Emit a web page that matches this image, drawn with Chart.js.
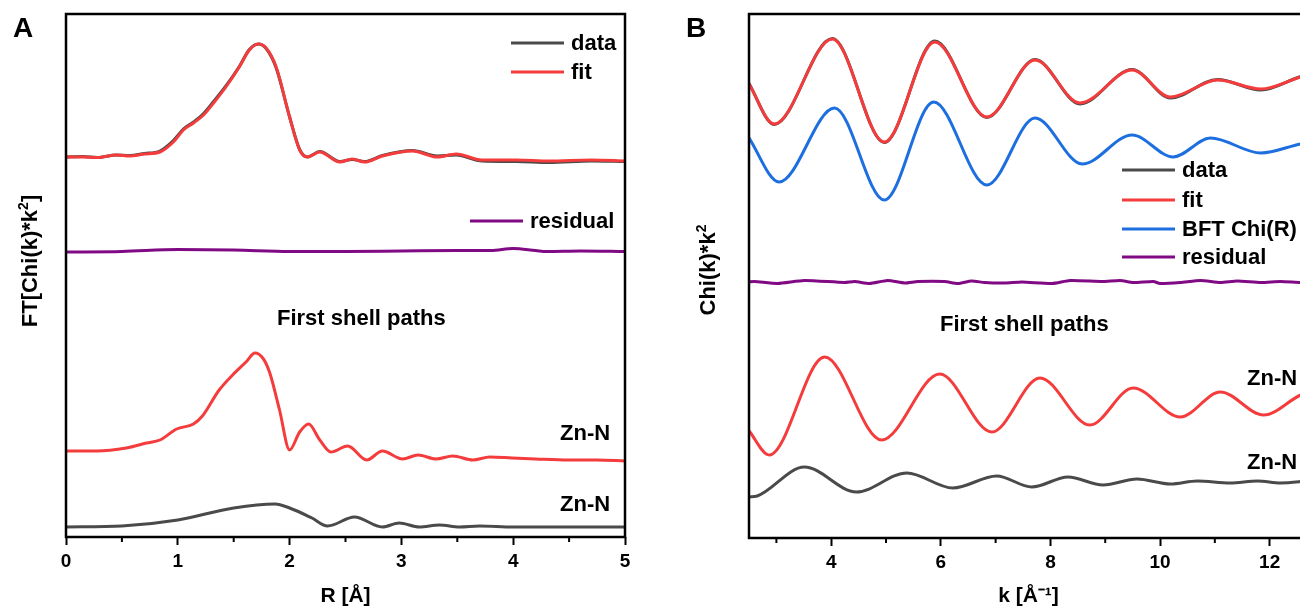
<!DOCTYPE html>
<html>
<head>
<meta charset="utf-8">
<script src="https://cdn.jsdelivr.net/npm/chart.js@4.4.0/dist/chart.umd.min.js"></script>
<style>
  html, body { margin: 0; padding: 0; background: #fff; overflow: hidden; }
  body { width: 1300px; height: 612px; position: relative;
         font-family: "Liberation Sans", Arial, sans-serif; font-weight: bold; color: #000; }
  canvas { position: absolute; top: 0; }
  .lbl { position: absolute; white-space: nowrap; line-height: 1; transform: translateY(-50%); font-size: 22px; }
  .key { position: absolute; height: 3px; width: 53px; transform: translateY(-50%); }
  .ytitle { position: absolute; white-space: nowrap; line-height: 1; font-size: 22px;
            transform: translate(-50%, -50%) rotate(-90deg); }
  .ytitle sup { font-size: 14px; vertical-align: 9px; }
  .panel { position: absolute; font-size: 28px; line-height: 1; transform: translateY(-50%); }
</style>
</head>
<body>
<canvas id="chart-a"></canvas>
<canvas id="chart-b"></canvas>

<div class="panel" style="left:13px;top:28px">A</div>
<div class="panel" style="left:686px;top:28px">B</div>

<div class="ytitle" style="left:28px;top:261px">FT[Chi(k)*k<sup>2</sup>]</div>
<div class="ytitle" style="left:706px;top:270px">Chi(k)*k<sup>2</sup></div>

<!-- A : légendes et étiquettes -->
<div class="key" style="left:511px;top:43px;background:#4a4a4a"></div>
<div class="lbl" style="left:571px;top:43px">data</div>
<div class="key" style="left:511px;top:72px;background:#f43c3c"></div>
<div class="lbl" style="left:571px;top:72px">fit</div>
<div class="key" style="left:470px;top:221px;background:#800a84"></div>
<div class="lbl" style="left:530px;top:221px">residual</div>
<div class="lbl" style="left:277px;top:318px">First shell paths</div>
<div class="lbl" style="left:560px;top:433px">Zn-N</div>
<div class="lbl" style="left:560px;top:504px">Zn-N</div>

<!-- B : légendes et étiquettes -->
<div class="key" style="left:1122px;top:170px;background:#4a4a4a"></div>
<div class="lbl" style="left:1182px;top:170px">data</div>
<div class="key" style="left:1122px;top:200px;background:#f43c3c"></div>
<div class="lbl" style="left:1182px;top:200px">fit</div>
<div class="key" style="left:1122px;top:229px;background:#1d6fe0"></div>
<div class="lbl" style="left:1182px;top:229px">BFT Chi(R)</div>
<div class="key" style="left:1122px;top:257px;background:#800a84"></div>
<div class="lbl" style="left:1182px;top:257px">residual</div>
<div class="lbl" style="left:940px;top:324px">First shell paths</div>
<div class="lbl" style="left:1247px;top:378px">Zn-N</div>
<div class="lbl" style="left:1247px;top:462px">Zn-N</div>

<script>
/* ── Panneau A : FT en R (unités arbitraires) ───────────── */
const A_TOP_R   = [0,0.15,0.28,0.45,0.57,0.7,0.84,0.96,1.05,1.14,1.23,1.32,1.43,1.55,1.64,1.72,1.79,1.88,2.0,2.09,2.16,2.27,2.45,2.56,2.67,2.83,3.1,3.32,3.49,3.72,4.03,4.32,4.7,5.0];
const A_FIT     = [7.60,7.60,7.59,7.64,7.62,7.66,7.70,7.90,8.14,8.28,8.44,8.68,9.00,9.40,9.74,9.86,9.78,9.40,8.40,7.74,7.60,7.70,7.50,7.56,7.50,7.62,7.72,7.60,7.66,7.54,7.54,7.52,7.54,7.52];
const A_DATA    = [7.60,7.61,7.59,7.64,7.63,7.67,7.72,7.93,8.16,8.30,8.47,8.71,9.02,9.41,9.75,9.86,9.77,9.38,8.40,7.75,7.60,7.71,7.51,7.55,7.51,7.63,7.73,7.62,7.64,7.52,7.51,7.49,7.52,7.51];

const A_RES_R   = [0,0.5,1.0,1.5,2.0,2.5,3.0,3.5,3.8,4.0,4.2,4.3,4.6,5.0];
const A_RES     = [5.70,5.71,5.75,5.74,5.71,5.71,5.72,5.73,5.73,5.77,5.73,5.71,5.72,5.71];

const A_ZNN1_R  = [0,0.27,0.54,0.72,0.84,0.99,1.14,1.22,1.37,1.49,1.61,1.69,1.76,1.82,1.91,2.0,2.09,2.17,2.27,2.37,2.52,2.69,2.83,3.01,3.15,3.31,3.46,3.64,3.79,3.99,4.2,4.5,4.75,5.0];
const A_ZNN1    = [1.72,1.72,1.78,1.88,1.94,2.16,2.26,2.42,2.94,3.24,3.50,3.68,3.58,3.30,2.54,1.74,2.10,2.26,1.94,1.70,1.82,1.54,1.72,1.56,1.64,1.56,1.62,1.54,1.60,1.58,1.56,1.54,1.54,1.52];

const A_ZNN2_R  = [0,0.5,1.0,1.5,1.87,2.0,2.2,2.34,2.58,2.83,2.98,3.16,3.34,3.52,3.7,4.0,5.0];
const A_ZNN2    = [0.20,0.22,0.34,0.58,0.66,0.58,0.38,0.22,0.40,0.20,0.28,0.20,0.24,0.20,0.22,0.20,0.20];

const A_TICKS   = [0,1,2,3,4,5];
const A_MINOR   = [0.5,1.5,2.5,3.5,4.5];

/* ── Panneau B : Chi(k)*k² (unités arbitraires) ─────────── */
const B_TOP_K   = [2.49,2.96,4.02,4.97,5.89,6.84,7.72,8.54,9.49,10.19,11.05,11.84,12.57,12.7];
const B_FIT     = [9.10,8.28,9.98,7.92,9.92,8.42,9.56,8.70,9.36,8.82,9.16,8.98,9.22,9.25];
const B_DATA    = [9.11,8.27,9.99,7.91,9.94,8.41,9.57,8.68,9.37,8.80,9.17,8.96,9.23,9.26];

const B_BFT_K   = [2.49,3.05,4.06,4.97,5.87,6.84,7.72,8.58,9.49,10.24,10.92,11.84,12.57,12.7];
const B_BFT     = [8.02,7.12,8.60,6.76,8.72,7.06,8.40,7.48,8.06,7.62,8.00,7.70,7.88,7.90];

const B_RES_K   = [2.49,2.60,3.02,3.51,4.24,4.43,4.70,5.03,5.34,5.58,6.07,6.31,6.56,6.80,7.17,7.48,8.03,8.36,8.96,9.27,9.51,9.88,10.00,10.37,10.74,11.10,11.41,11.84,12.20,12.57,12.7];
const B_RES     = [5.12,5.13,5.09,5.15,5.11,5.13,5.09,5.15,5.10,5.13,5.13,5.09,5.14,5.11,5.10,5.12,5.09,5.15,5.13,5.15,5.11,5.13,5.09,5.11,5.15,5.11,5.14,5.11,5.13,5.11,5.12];

const B_ZNN1_K  = [2.49,2.87,3.88,4.92,5.98,6.93,7.81,8.72,9.51,10.37,11.1,11.89,12.57,12.7];
const B_ZNN1    = [2.16,1.66,3.62,1.96,3.28,2.12,3.20,2.26,3.00,2.42,2.92,2.46,2.86,2.90];

const B_ZNN2_K  = [2.49,2.65,3.51,4.46,5.38,6.22,7.02,7.66,8.32,8.96,9.58,10.19,10.68,11.28,11.78,12.2,12.7];
const B_ZNN2    = [0.82,0.84,1.42,0.92,1.30,1.00,1.24,1.02,1.22,1.06,1.18,1.08,1.14,1.10,1.14,1.10,1.14];

const B_TICKS   = [4,6,8,10,12];
const B_MINOR   = [3,5,7,9,11];

/* ── Couleurs ───────────────────────────────────────────── */
const ROUGE  = '#f43c3c';
const GRIS   = '#4a4a4a';
const BLEU   = '#1d6fe0';
const VIOLET = '#800a84';
const POLICE = '"Liberation Sans", Arial, sans-serif';

function points(xs, ys) {
  return xs.map((x, i) => ({ x, y: ys[i] }));
}

function serie(xs, ys, couleur, lisse = true) {
  return {
    data: points(xs, ys),
    borderColor: couleur,
    borderWidth: 3,
    pointRadius: 0,
    fill: false,
    cubicInterpolationMode: lisse ? 'monotone' : 'default',
    tension: lisse ? 0.4 : 0.2,
  };
}

/* Cadre noir + petites graduations mineures */
const cadrePlugin = {
  id: 'cadre',
  afterDraw(chart, args, opts) {
    const { ctx, chartArea: a, scales: { x } } = chart;
    ctx.save();
    ctx.strokeStyle = '#000';
    ctx.lineWidth = 2.5;
    ctx.strokeRect(a.left, a.top, a.right - a.left, a.bottom - a.top);
    ctx.lineWidth = 2;
    (opts.minor || []).forEach(v => {
      const px = x.getPixelForValue(v);
      ctx.beginPath();
      ctx.moveTo(px, a.bottom);
      ctx.lineTo(px, a.bottom + 5);
      ctx.stroke();
    });
    ctx.restore();
  },
};

function creerGraphe(id, gauche, largeur, cfg) {
  const cv = document.getElementById(id);
  cv.width = largeur; cv.height = 612;
  cv.style.left = gauche + 'px';
  cv.style.width = largeur + 'px'; cv.style.height = '612px';

  return new Chart(cv.getContext('2d'), {
    type: 'line',
    data: { datasets: cfg.datasets },
    options: {
      responsive: false,
      animation: false,
      layout: { padding: { left: 0, top: 14, right: cfg.padDroite, bottom: 0 } },
      plugins: {
        legend: { display: false },
        tooltip: { enabled: false },
        cadre: { minor: cfg.minor },
      },
      scales: {
        x: {
          type: 'linear',
          min: cfg.xmin, max: cfg.xmax,
          afterFit: s => { s.height = 612 - cfg.bas; },
          afterBuildTicks: s => { s.ticks = cfg.ticks.map(v => ({ value: v })); },
          grid: { drawOnChartArea: false, drawTicks: true, tickLength: 8, tickWidth: 2, tickColor: '#000' },
          border: { display: false },
          ticks: { color: '#000', padding: 5, maxRotation: 0, font: { family: POLICE, size: 19, weight: 'bold' } },
          title: {
            display: true, text: cfg.titreX, color: '#000',
            padding: { top: 0, bottom: 3 },
            font: { family: POLICE, size: 21, weight: 'bold' },
          },
        },
        y: {
          min: 0, max: cfg.ymax,
          afterFit: s => { s.width = 66; },
          grid: { display: false },
          border: { display: false },
          ticks: { display: false },
        },
      },
    },
    plugins: [cadrePlugin],
  });
}

document.addEventListener('DOMContentLoaded', () => {
  creerGraphe('chart-a', 0, 650, {
    xmin: 0, xmax: 5, ymax: 10.46, bas: 537, padDroite: 25,
    ticks: A_TICKS, minor: A_MINOR, titreX: 'R [Å]',
    datasets: [
      serie(A_TOP_R, A_FIT, ROUGE),
      serie(A_TOP_R, A_DATA, GRIS),
      serie(A_RES_R, A_RES, VIOLET),
      serie(A_ZNN1_R, A_ZNN1, ROUGE),
      serie(A_ZNN2_R, A_ZNN2, GRIS),
    ],
  });

  creerGraphe('chart-b', 683, 640, {
    xmin: 2.5, xmax: 12.7, ymax: 10.48, bas: 538, padDroite: 15,
    ticks: B_TICKS, minor: B_MINOR, titreX: 'k [Å⁻¹]',
    datasets: [
      serie(B_TOP_K, B_FIT, ROUGE),
      serie(B_TOP_K, B_DATA, GRIS),
      serie(B_BFT_K, B_BFT, BLEU),
      serie(B_RES_K, B_RES, VIOLET, false),
      serie(B_ZNN1_K, B_ZNN1, ROUGE),
      serie(B_ZNN2_K, B_ZNN2, GRIS),
    ],
  });
});
</script>
</body>
</html>
